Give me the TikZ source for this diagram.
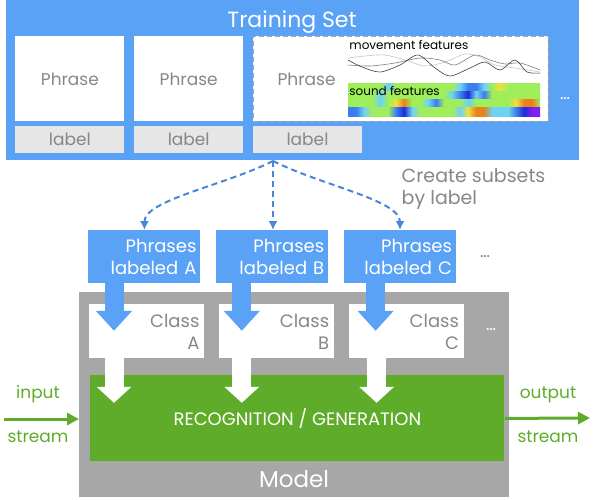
\documentclass[tikz,border=0pt]{standalone}
\usepackage{fontspec}
\setmainfont{Poppins}
\usetikzlibrary{arrows.meta, positioning, calc}
\definecolor{setblue}{RGB}{90,162,245}
\definecolor{linkblue}{RGB}{72,134,214}
\definecolor{modelgray}{RGB}{167,167,167}
\definecolor{labelgray}{RGB}{230,230,230}
\definecolor{textgray}{RGB}{135,135,135}
\definecolor{recgreen}{RGB}{94,172,42}
\definecolor{hmg}{RGB}{160,238,90}
\definecolor{hmc}{RGB}{110,210,245}
\definecolor{hmb}{RGB}{60,125,240}
\definecolor{hmd}{RGB}{30,45,215}
\definecolor{hmy}{RGB}{240,222,60}
\definecolor{hmo}{RGB}{232,130,30}
\definecolor{hmp}{RGB}{130,30,240}

\begin{document}
\begin{tikzpicture}[x=1pt, y=-1pt, node distance=9pt, >=Latex, thick,
    phrasebox/.style={fill=white, minimum width=109pt, minimum height=85pt, inner sep=0pt,
      text=textgray, font=\fontsize{17}{20}\selectfont},
    labelbox/.style={fill=labelgray, minimum width=109pt, minimum height=27pt, inner sep=0pt,
      text=textgray, font=\fontsize{17}{20}\selectfont},
    groupbox/.style={fill=setblue, minimum width=112pt, minimum height=53pt, inner sep=0pt,
      text width=104pt, align=right, text=white, font=\fontsize{18}{22}\selectfont},
    classbox/.style={fill=white, minimum width=115pt, minimum height=54pt, inner sep=0pt,
      text width=105pt, align=right, text=textgray, font=\fontsize{18}{22}\selectfont},
    link/.style={linkblue, line width=2pt, dash pattern=on 6pt off 4pt,
      -{Latex[length=9pt, width=9pt]}},
    bluearrow/.style={setblue, line width=19pt, -{Triangle[length=20pt, width=35pt]}},
    whitearrow/.style={white, line width=19pt, -{Triangle[length=16pt, width=34pt]}},
    stream/.style={recgreen, line width=3pt, -{Triangle[length=12pt, width=12pt]}},
    iotext/.style={text=recgreen, anchor=base, font=\fontsize{17}{20}\selectfont}]
  \useasboundingbox (0,0) rectangle (600,499);

  \node[fill=setblue, minimum width=573pt, minimum height=160pt, anchor=north west] (train) at (6,0) {};
  \node[white, anchor=base, font=\fontsize{22}{26}\selectfont] (title) at (292,27) {Training Set};
  \node[phrasebox, anchor=north west] (ph1) at (15,36) {Phrase};
  \node[phrasebox, right=of ph1] (ph2) {Phrase};
  \node[phrasebox, right=of ph2, minimum width=295pt, draw=gray!70, dash pattern=on 5pt off 3pt] (ph3) {};
  \node[phrasebox, fill=none] (ph3text) at ($(ph3.west)+(54,0)$) {Phrase};
  \node[labelbox, below=4pt of ph1] (lab1) {label};
  \node[labelbox, below=4pt of ph2] (lab2) {label};
  \node[labelbox, below=4pt of ph3.south west, anchor=north west] (lab3) {label};
  \node[white, font=\fontsize{17}{20}\selectfont] (moreset) at (565,99) {\ldots};

  \foreach \row [count=\r] in {
      {g,g,g,g,c,g,g,g,g,g,g,g,g,c,b,b,c,g,y,g,g,g,g,g},
      {g,g,g,c,g,g,g,g,g,g,g,g,c,b,d,c,b,g,g,g,g,g,g,g},
      {g,g,g,c,g,y,o,g,g,c,b,g,g,g,c,g,g,g,g,g,y,o,o,g},
      {b,c,g,g,g,b,d,c,g,g,g,g,g,c,y,o,o,c,c,c,b,d,p,p}}
    \foreach \c [count=\i, remember=\c as \prev (initially \c)] in \row
      \shade[left color=hm\prev, right color=hm\c] (340+8*\i, 74.75+8.25*\r) rectangle ++(8,8.25);
  \draw[gray!45, semithick] plot[smooth] coordinates {(348,58) (365,56) (385,55) (405,60) (425,66)
    (445,62) (465,54) (480,57) (495,65) (515,68) (540,72)};
  \draw[gray, semithick] plot[smooth] coordinates {(348,65) (370,66) (395,63) (420,58) (440,60)
    (455,65) (475,55) (490,60) (505,64) (520,63) (540,70)};
  \draw[black!75, semithick] plot[smooth] coordinates {(348,60) (362,67) (380,72) (400,65) (418,55)
    (435,68) (450,76) (470,68) (485,62) (500,70) (515,60) (527,72) (540,73)};
  \node[anchor=base west, inner sep=0pt, font=\fontsize{12}{14}\selectfont] (movement) at (349,49) {movement features};
  \node[anchor=base west, inner sep=0pt, font=\fontsize{12}{14}\selectfont] (sound) at (349,95) {sound features};

  \node[groupbox, anchor=north west] (pA) at (88,230) {Phrases\\labeled A};
  \node[groupbox, right=15pt of pA] (pB) {Phrases\\labeled B};
  \node[groupbox, right=15pt of pB] (pC) {Phrases\\labeled C};
  \node[text=textgray, font=\fontsize{17}{20}\selectfont] (moregroups) at (485,257) {\ldots};
  \node[anchor=north west, align=left, text=textgray, font=\fontsize{19}{22}\selectfont] (subsets) at (398,165) {Create subsets\\by label};

  \coordinate (split) at (273,161);
  \draw[link] (split) .. controls +(-50,25) and +(0,-30) .. (pA.north);
  \draw[link] (split) -- (pB.north -| split);
  \draw[link] (split) .. controls +(50,25) and +(0,-30) .. (pC.north);

  \node[fill=modelgray, minimum width=430pt, minimum height=205pt, anchor=north west] (model) at (79,292) {};
  \node[white, anchor=base, font=\fontsize{23}{26}\selectfont] (modeltitle) at (294,487) {Model};
  \node[classbox, anchor=north west] (clA) at (89,304) {Class\\A};
  \node[classbox, right=14pt of clA] (clB) {Class\\B};
  \node[classbox, right=14pt of clB] (clC) {Class\\C};
  \node[white, font=\fontsize{17}{20}\selectfont] (moreclasses) at (491,330) {\ldots};
  \node[fill=recgreen, minimum width=414pt, minimum height=86pt, anchor=north west, text=white,
    font=\fontsize{18}{20}\selectfont] (rec) at (90,375) {RECOGNITION / GENERATION};

  \foreach \n/\bx/\wx in {A/26/25, B/26/23, C/32/28} {
    \draw[bluearrow] (p\n.south west) ++(\bx,-2) -- ++(0,49);
    \draw[whitearrow] (cl\n.south west) ++(\wx,-1) -- ++(0,45);
  }

  \coordinate (inStart) at (4,419);
  \coordinate (outEnd) at (590,418);
  \draw[stream] (inStart) -- (inStart -| model.west);
  \draw[stream] (rec.east) -- (outEnd);
  \node[iotext] (inTop) at (38,398) {input};
  \node[iotext] (inBottom) at (38,442) {stream};
  \node[iotext] (outTop) at (548,398) {output};
  \node[iotext] (outBottom) at (548,442) {stream};
\end{tikzpicture}
\end{document}
